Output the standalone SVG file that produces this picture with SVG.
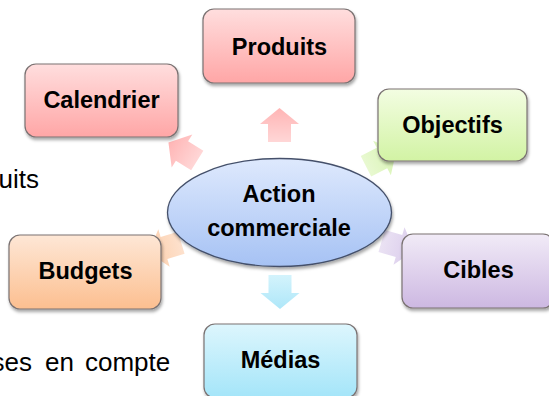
<svg xmlns="http://www.w3.org/2000/svg" width="549" height="396" viewBox="0 0 549 396">
  <defs>
    <linearGradient id="gRed" x1="0" y1="0" x2="0" y2="1">
      <stop offset="0" stop-color="#FFDEDE"/>
      <stop offset="1" stop-color="#FFA6A6"/>
    </linearGradient>
    <linearGradient id="gGreen" x1="0" y1="0" x2="0" y2="1">
      <stop offset="0" stop-color="#F3FDE2"/>
      <stop offset="1" stop-color="#D2F3A4"/>
    </linearGradient>
    <linearGradient id="gOrange" x1="0" y1="0" x2="0" y2="1">
      <stop offset="0" stop-color="#FEE7D6"/>
      <stop offset="1" stop-color="#FCBF90"/>
    </linearGradient>
    <linearGradient id="gPurple" x1="0" y1="0" x2="0" y2="1">
      <stop offset="0" stop-color="#F1EBF7"/>
      <stop offset="1" stop-color="#CDB8E2"/>
    </linearGradient>
    <linearGradient id="gBlue" x1="0" y1="0" x2="0" y2="1">
      <stop offset="0" stop-color="#DDF6FD"/>
      <stop offset="1" stop-color="#A4E5F9"/>
    </linearGradient>
    <linearGradient id="gCore" x1="0" y1="0" x2="0" y2="1">
      <stop offset="0" stop-color="#DEE9FD"/>
      <stop offset="1" stop-color="#A6C2F4"/>
    </linearGradient>
    <!-- arrow fills run tail (x=-18) to tip (x=16) in local coordinates -->
    <linearGradient id="aRed" gradientUnits="userSpaceOnUse" x1="-18" y1="0" x2="16" y2="0">
      <stop offset="0" stop-color="#FFD2D2"/>
      <stop offset="1" stop-color="#FFACAC"/>
    </linearGradient>
    <linearGradient id="aGreen" gradientUnits="userSpaceOnUse" x1="-18" y1="0" x2="16" y2="0">
      <stop offset="0" stop-color="#E6F8CC"/>
      <stop offset="1" stop-color="#D2F2A8"/>
    </linearGradient>
    <linearGradient id="aOrange" gradientUnits="userSpaceOnUse" x1="-18" y1="0" x2="16" y2="0">
      <stop offset="0" stop-color="#FDDEC8"/>
      <stop offset="1" stop-color="#FCC9A2"/>
    </linearGradient>
    <linearGradient id="aPurple" gradientUnits="userSpaceOnUse" x1="-18" y1="0" x2="16" y2="0">
      <stop offset="0" stop-color="#E8DFF2"/>
      <stop offset="1" stop-color="#D6C6EA"/>
    </linearGradient>
    <linearGradient id="aBlue" gradientUnits="userSpaceOnUse" x1="-18" y1="0" x2="16" y2="0">
      <stop offset="0" stop-color="#CFF2FC"/>
      <stop offset="1" stop-color="#A5E4F8"/>
    </linearGradient>
    <filter id="shadow" x="-10%" y="-10%" width="125%" height="135%">
      <feDropShadow dx="1" dy="2.5" stdDeviation="1.6" flood-color="#000" flood-opacity="0.35"/>
    </filter>
    <path id="arrow" d="M-18,-11.5 L0,-11.5 L0,-19.5 L16,0 L0,19.5 L0,11.5 L-18,11.5 Z"/>
  </defs>
  <style>
    .body { font-family: "Liberation Sans", Arial, sans-serif; font-size: 26px; fill: #000; }
    .lbl { font-family: "Liberation Sans", Arial, sans-serif; font-size: 23.5px; font-weight: bold; fill: #000; text-anchor: middle; }
    .box { stroke: #7A7272; stroke-width: 1.2; filter: url(#shadow); }
    .core { stroke: #44506A; stroke-width: 1.3; filter: url(#shadow); }
    .arr { opacity: 0.9; }
  </style>

  <!-- surrounding paragraph fragments -->
  <text class="body" x="39" y="188" text-anchor="end">uits</text>
  <text class="body" y="371"><tspan x="-8.5">ses</tspan><tspan x="45">en</tspan><tspan x="85">compte</tspan></text>

  <!-- radial block arrows -->
  <g id="connectors">
    <use href="#arrow" class="arr" fill="url(#aRed)" transform="translate(279.5,124) rotate(-90)"/>
    <use href="#arrow" class="arr" fill="url(#aRed)" transform="translate(182,151) rotate(212)"/>
    <use href="#arrow" class="arr" fill="url(#aGreen)" transform="translate(382,158) rotate(-27)"/>
    <use href="#arrow" class="arr" fill="url(#aOrange)" transform="translate(164,248) rotate(163)"/>
    <use href="#arrow" class="arr" fill="url(#aPurple)" transform="translate(399,246) rotate(16.4)"/>
    <use href="#arrow" class="arr" fill="url(#aBlue)" transform="translate(280,293) rotate(90)"/>
  </g>

  <g id="action">
    <ellipse class="core" cx="279.5" cy="212.5" rx="112" ry="54" fill="url(#gCore)"/>
    <text class="lbl" x="279" y="202">Action</text>
    <text class="lbl" x="279" y="236">commerciale</text>
  </g>

  <g id="produits">
    <rect class="box" x="203" y="9" width="152" height="74" rx="11" fill="url(#gRed)"/>
    <text class="lbl" x="279.5" y="55">Produits</text>
  </g>

  <g id="calendrier">
    <rect class="box" x="25" y="64" width="153" height="73" rx="11" fill="url(#gRed)"/>
    <text class="lbl" x="101.5" y="107.5">Calendrier</text>
  </g>

  <g id="objectifs">
    <rect class="box" x="378" y="89" width="149" height="72" rx="11" fill="url(#gGreen)"/>
    <text class="lbl" x="452.5" y="133">Objectifs</text>
  </g>

  <g id="budgets">
    <rect class="box" x="9" y="235" width="152" height="74" rx="11" fill="url(#gOrange)"/>
    <text class="lbl" x="85.5" y="279">Budgets</text>
  </g>

  <g id="cibles">
    <rect class="box" x="402" y="234" width="152" height="74" rx="11" fill="url(#gPurple)"/>
    <text class="lbl" x="478.5" y="278">Cibles</text>
  </g>

  <g id="medias">
    <rect class="box" x="204" y="324" width="153" height="74" rx="11" fill="url(#gBlue)"/>
    <text class="lbl" x="280.5" y="368">Médias</text>
  </g>
</svg>
